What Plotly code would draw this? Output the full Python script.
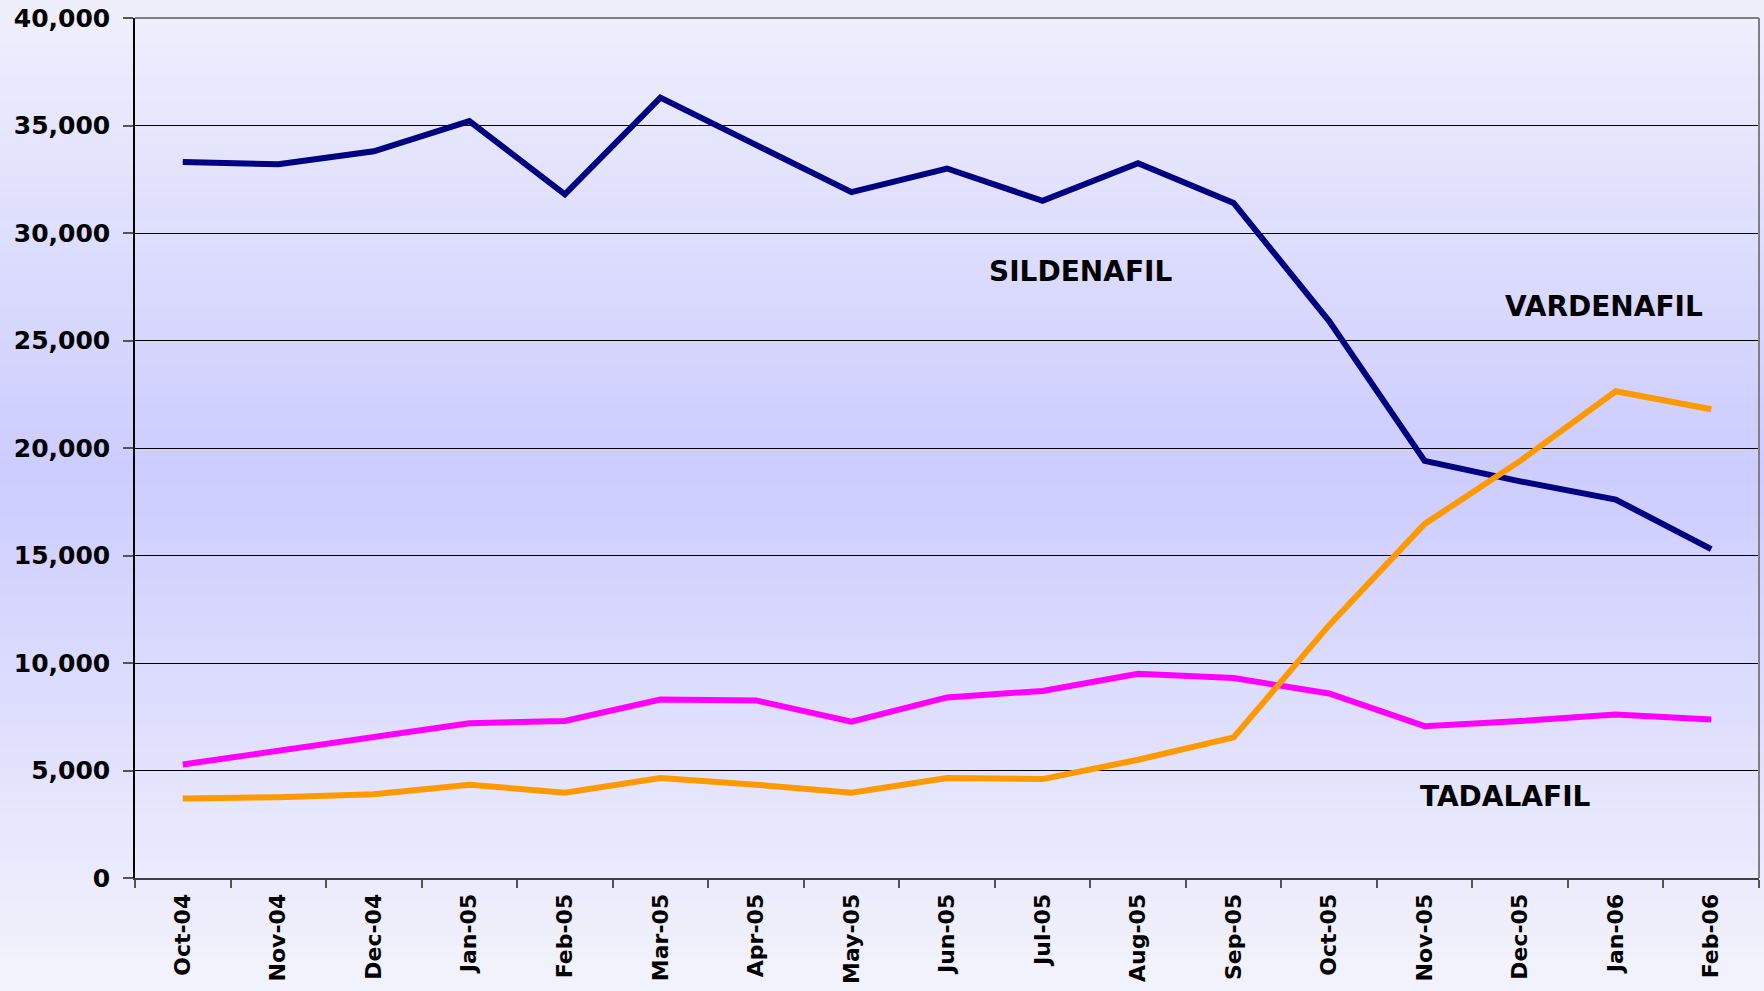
import plotly.graph_objects as go

months = ["Oct-04", "Nov-04", "Dec-04", "Jan-05", "Feb-05", "Mar-05", "Apr-05", "May-05",
          "Jun-05", "Jul-05", "Aug-05", "Sep-05", "Oct-05", "Nov-05", "Dec-05", "Jan-06", "Feb-06"]

sildenafil = [33300, 33200, 33800, 35200, 31800, 36300, 34100, 31900, 33000, 31500, 33250,
              31400, 25900, 19400, 18450, 17600, 15300]
vardenafil = [3700, 3760, 3900, 4340, 3970, 4650, 4340, 3970, 4650, 4600, 5500, 6540,
              11760, 16470, 19400, 22640, 21800]
tadalafil = [5280, 5900, 6540, 7200, 7300, 8300, 8260, 7270, 8400, 8700, 9500, 9300,
             8580, 7060, 7300, 7600, 7370]

y_ticks = [0, 5000, 10000, 15000, 20000, 25000, 30000, 35000, 40000]
y_tick_text = ["0", "5,000", "10,000", "15,000", "20,000", "25,000", "30,000", "35,000", "40,000"]

labels = ["SILDENAFIL", "VARDENAFIL", "TADALAFIL"]
label_x = [9.40, 14.88, 13.85]
label_y = [28230, 26560, 3770]

W, H = 1764, 991
ML, MR, MT, MB = 135, 5, 18, 113
PW, PH = W - ML - MR, H - MT - MB

fig = go.Figure()
series = [("Sildenafil", sildenafil, "#000080"),
          ("Tadalafil", tadalafil, "#FF00FF"),
          ("Vardenafil", vardenafil, "#FF9900")]
for name, vals, col in series:
    fig.add_trace(go.Scatter(x=months, y=vals, mode="lines", name=name,
                             line=dict(color=col, width=6), showlegend=False))

# background gradient (lighter at edges, lavender in the middle)
shapes = []
N = 90
center = 470.0
half = 500.0
edge = (242, 242, 252)
mid = (204, 204, 255)
for i in range(N):
    y0p = i * H / N
    y1p = (i + 1) * H / N
    yc = (y0p + y1p) / 2
    t = min(abs(yc - center) / half, 1.0)
    c = tuple(round(mid[k] + (edge[k] - mid[k]) * t) for k in range(3))
    py0 = (H - MB - y1p) / PH
    py1 = (H - MB - y0p) / PH
    shapes.append(dict(type="rect", xref="paper", yref="paper",
                       x0=-ML / PW - 0.01, x1=1 + MR / PW + 0.01,
                       y0=py0 - 0.001, y1=py1 + 0.001,
                       fillcolor="rgb(%d,%d,%d)" % c, line=dict(width=0), layer="below"))
shapes.append(dict(type="line", xref="paper", yref="paper", x0=1, x1=1, y0=0, y1=1,
                   line=dict(color="#808080", width=2)))
shapes.append(dict(type="line", xref="paper", yref="paper", x0=0, x1=1, y0=1, y1=1,
                   line=dict(color="#808080", width=2)))

annotations = [dict(x=x, y=y, xref="x", yref="y", text=t, showarrow=False,
                    font=dict(family="DejaVu Sans", size=28, color="#000000", weight="bold"),
                    xanchor="center", yanchor="middle")
               for t, x, y in zip(labels, label_x, label_y)]

fig.update_layout(
    width=W, height=H,
    margin=dict(l=ML, r=MR, t=MT, b=MB, pad=0, autoexpand=False),
    paper_bgcolor="rgb(242,242,252)",
    plot_bgcolor="rgba(0,0,0,0)",
    shapes=shapes,
    annotations=annotations,
    xaxis=dict(type="category", categoryorder="array", categoryarray=months,
               range=[-0.5, len(months) - 0.5], automargin=False,
               tickangle=-90, tickson="boundaries", ticks="outside", ticklen=8,
               tickcolor="#555555", tickwidth=1.5, ticklabelstandoff=5,
               showline=True, linecolor="#404040", linewidth=2,
               showgrid=False, zeroline=False,
               tickfont=dict(family="DejaVu Sans", size=22, color="#000000", weight="bold")),
    yaxis=dict(range=[0, 40000], tickvals=y_ticks, ticktext=y_tick_text, automargin=False,
               ticks="outside", ticklen=10, tickcolor="#555555", tickwidth=1.5,
               ticklabelstandoff=8,
               showline=True, linecolor="#000000", linewidth=1.5,
               showgrid=True, gridcolor="#000000", gridwidth=1, zeroline=False,
               tickfont=dict(family="DejaVu Sans", size=25, color="#000000", weight="bold")),
)

fig.write_html("out.html", config={"displayModeBar": False},
               post_script="document.body.style.margin='0';document.body.style.overflow='hidden';")
